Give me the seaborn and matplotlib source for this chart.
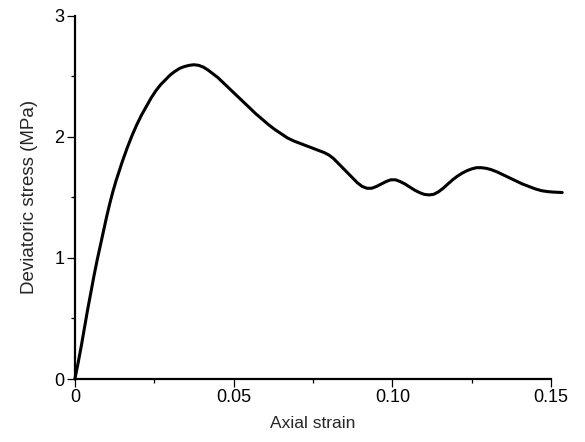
import matplotlib
matplotlib.use("Agg")
import matplotlib.pyplot as plt
from matplotlib.ticker import MultipleLocator
import seaborn as sns
import pandas as pd

# values
axial_strain = [0.0, 0.001, 0.002, 0.003, 0.004, 0.005, 0.006, 0.007, 0.008, 0.009,
                0.010, 0.011, 0.012, 0.013, 0.014, 0.015, 0.0165, 0.018, 0.0195,
                0.021, 0.0225, 0.024, 0.0255, 0.027, 0.0285, 0.030, 0.0315, 0.033,
                0.0345, 0.036, 0.0375, 0.039, 0.0405, 0.042, 0.0435, 0.045, 0.047,
                0.049, 0.051, 0.053, 0.055, 0.057, 0.059, 0.061, 0.063, 0.065,
                0.067, 0.069, 0.071, 0.073, 0.075, 0.077, 0.0785, 0.080, 0.0815,
                0.083, 0.0845, 0.086, 0.0875, 0.089, 0.0905, 0.092, 0.0935, 0.095,
                0.0965, 0.098, 0.0995, 0.101, 0.1025, 0.104, 0.1055, 0.107, 0.1085,
                0.110, 0.1115, 0.113, 0.1145, 0.116, 0.1175, 0.119, 0.1205, 0.122,
                0.1235, 0.125, 0.1265, 0.128, 0.1295, 0.131, 0.133, 0.135, 0.137,
                0.139, 0.141, 0.143, 0.145, 0.147, 0.149, 0.151, 0.1535]
dev_stress = [0.0, 0.13, 0.27, 0.42, 0.57, 0.71, 0.85, 0.98, 1.10, 1.22,
              1.34, 1.45, 1.55, 1.64, 1.72, 1.80, 1.91, 2.01, 2.10,
              2.18, 2.25, 2.32, 2.38, 2.43, 2.47, 2.51, 2.54, 2.565,
              2.58, 2.59, 2.595, 2.59, 2.575, 2.55, 2.52, 2.49, 2.44,
              2.39, 2.34, 2.29, 2.24, 2.19, 2.145, 2.10, 2.06, 2.025,
              1.99, 1.965, 1.945, 1.925, 1.905, 1.885, 1.87, 1.85, 1.82,
              1.78, 1.74, 1.70, 1.66, 1.62, 1.59, 1.575, 1.575, 1.59,
              1.61, 1.63, 1.645, 1.645, 1.63, 1.61, 1.585, 1.56, 1.54,
              1.525, 1.52, 1.525, 1.545, 1.575, 1.61, 1.645, 1.675, 1.70,
              1.72, 1.735, 1.745, 1.745, 1.74, 1.73, 1.71, 1.685, 1.66,
              1.635, 1.61, 1.59, 1.57, 1.555, 1.547, 1.543, 1.54]

x_ticks = [0, 0.05, 0.10, 0.15]
x_ticklabels = ["0", "0.05", "0.10", "0.15"]
y_ticks = [0, 1, 2, 3]

df = pd.DataFrame({"Axial strain": axial_strain, "Deviatoric stress (MPa)": dev_stress})

sns.set_style("ticks")
plt.rcParams["font.family"] = ["Liberation Sans", "DejaVu Sans"]

fig = plt.figure(figsize=(5.85, 4.42), dpi=100)
ax = fig.add_axes([0.128, 0.1425, 0.814, 0.822])

sns.lineplot(data=df, x="Axial strain", y="Deviatoric stress (MPa)", ax=ax,
             color="black", linewidth=2.2, sort=False, estimator=None, clip_on=False)

ax.set_xlim(0, 0.15)
ax.set_ylim(0, 3)
ax.set_xticks(x_ticks)
ax.set_xticklabels(x_ticklabels)
ax.set_yticks(y_ticks)
ax.xaxis.set_minor_locator(MultipleLocator(0.025))
ax.yaxis.set_minor_locator(MultipleLocator(0.5))

for side in ["top", "right"]:
    ax.spines[side].set_visible(False)
for side in ["left", "bottom"]:
    ax.spines[side].set_linewidth(1.6)
    ax.spines[side].set_color("black")

ax.tick_params(which="major", direction="out", length=6, width=0.9, labelsize=13,
               colors="black", pad=1.5)
ax.tick_params(which="minor", direction="out", length=3, width=0.9, colors="black")

ax.set_xlabel("Axial strain", fontsize=12.5, labelpad=7)
ax.set_ylabel("Deviatoric stress (MPa)", fontsize=13.5, labelpad=12)

fig.savefig("out.png", dpi=100)
